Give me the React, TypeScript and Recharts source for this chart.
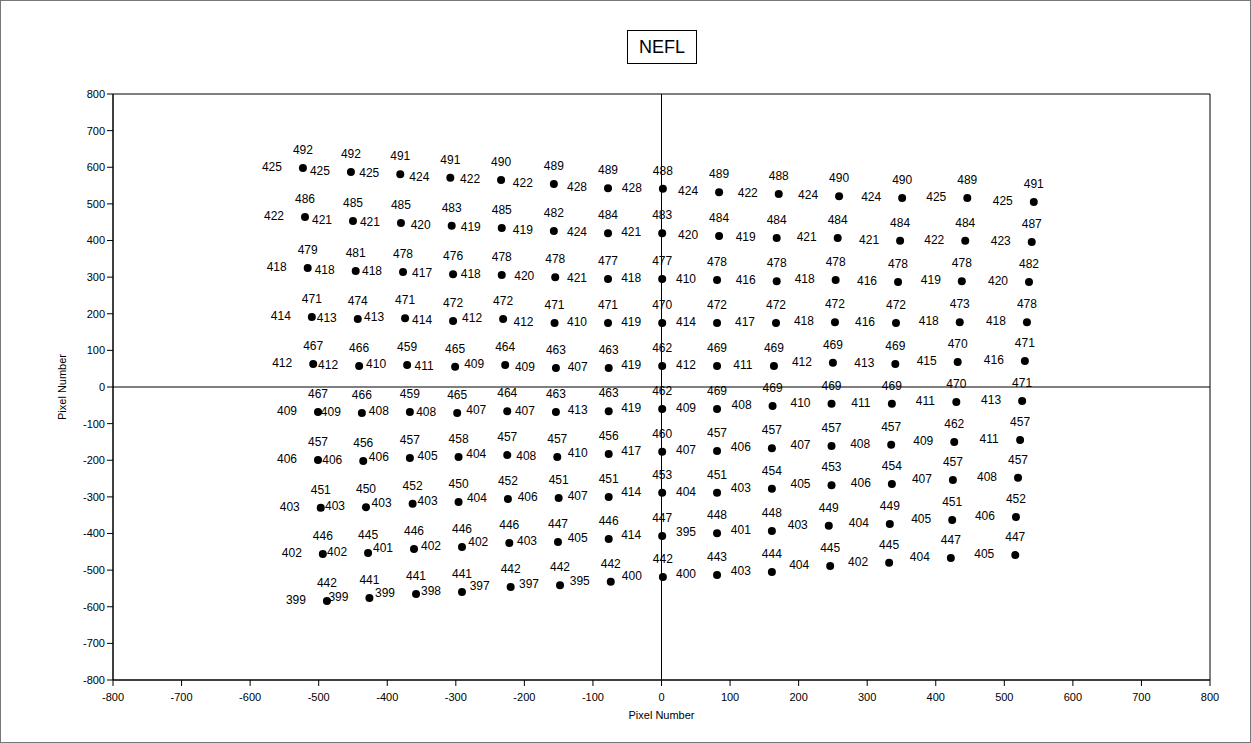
import React from "react";
import {
  ScatterChart,
  Scatter,
  XAxis,
  YAxis,
  ReferenceLine,
  ReferenceArea,
} from "recharts";

const axisTicks = [
  -800, -700, -600, -500, -400, -300, -200, -100, 0, 100, 200, 300, 400, 500,
  600, 700, 800,
];

// x position (pixel number) of each point, one row per line of the grid
const pointX = [
  [-523, -453, -381, -308, -234, -157, -78, 2, 84, 171, 259, 351, 446, 543],
  [-520, -450, -380, -306, -233, -157, -78, 1, 84, 168, 257, 348, 443, 540],
  [-516, -446, -377, -304, -233, -155, -78, 1, 81, 168, 254, 345, 438, 536],
  [-510, -443, -374, -304, -231, -156, -78, 1, 81, 167, 253, 342, 435, 533],
  [-508, -441, -371, -301, -228, -154, -77, 1, 81, 164, 250, 341, 432, 530],
  [-501, -437, -367, -298, -225, -154, -77, 1, 81, 162, 248, 336, 430, 526],
  [-501, -435, -367, -296, -225, -152, -77, 1, 81, 161, 248, 335, 427, 523],
  [-497, -431, -363, -296, -224, -150, -77, 1, 81, 161, 248, 336, 425, 520],
  [-494, -428, -361, -291, -222, -151, -77, 1, 81, 161, 244, 333, 424, 517],
  [-488, -426, -358, -291, -220, -148, -74, 2, 81, 161, 246, 332, 422, 516],
];

const pointY = [
  [598, 587, 581, 571, 565, 554, 543, 541, 532, 527, 521, 516, 516, 505],
  [464, 453, 448, 440, 434, 426, 420, 420, 412, 407, 407, 399, 399, 396],
  [325, 317, 314, 308, 306, 300, 295, 295, 292, 289, 292, 287, 289, 287],
  [191, 186, 188, 180, 186, 175, 175, 175, 175, 175, 177, 175, 177, 177],
  [63, 57, 60, 55, 60, 52, 52, 57, 57, 57, 66, 63, 68, 71],
  [-68, -71, -68, -71, -66, -68, -66, -60, -60, -52, -46, -46, -41, -38],
  [-199, -202, -194, -191, -186, -191, -183, -177, -175, -167, -161, -158, -150, -145],
  [-330, -328, -319, -314, -306, -303, -300, -289, -289, -278, -268, -265, -254, -248],
  [-456, -453, -442, -437, -426, -423, -415, -407, -399, -393, -379, -374, -363, -355],
  [-584, -576, -565, -560, -546, -541, -532, -519, -513, -505, -489, -480, -467, -459],
];

// value printed above each point
const labelTop = [
  [492, 492, 491, 491, 490, 489, 489, 488, 489, 488, 490, 490, 489, 491],
  [486, 485, 485, 483, 485, 482, 484, 483, 484, 484, 484, 484, 484, 487],
  [479, 481, 478, 476, 478, 478, 477, 477, 478, 478, 478, 478, 478, 482],
  [471, 474, 471, 472, 472, 471, 471, 470, 472, 472, 472, 472, 473, 478],
  [467, 466, 459, 465, 464, 463, 463, 462, 469, 469, 469, 469, 470, 471],
  [467, 466, 459, 465, 464, 463, 463, 462, 469, 469, 469, 469, 470, 471],
  [457, 456, 457, 458, 457, 457, 456, 460, 457, 457, 457, 457, 462, 457],
  [451, 450, 452, 450, 452, 451, 451, 453, 451, 454, 453, 454, 457, 457],
  [446, 445, 446, 446, 446, 447, 446, 447, 448, 448, 449, 449, 451, 452],
  [442, 441, 441, 441, 442, 442, 442, 442, 443, 444, 445, 445, 447, 447],
];

// value printed left of each point
const labelSide = [
  [425, 425, 425, 424, 422, 422, 428, 428, 424, 422, 424, 424, 425, 425],
  [422, 421, 421, 420, 419, 419, 424, 421, 420, 419, 421, 421, 422, 423],
  [418, 418, 418, 417, 418, 420, 421, 418, 410, 416, 418, 416, 419, 420],
  [414, 413, 413, 414, 412, 412, 410, 419, 414, 417, 418, 416, 418, 418],
  [412, 412, 410, 411, 409, 409, 407, 419, 412, 411, 412, 413, 415, 416],
  [409, 409, 408, 408, 407, 407, 413, 419, 409, 408, 410, 411, 411, 413],
  [406, 406, 406, 405, 404, 408, 410, 417, 407, 406, 407, 408, 409, 411],
  [403, 403, 403, 403, 404, 406, 407, 414, 404, 403, 405, 406, 407, 408],
  [402, 402, 401, 402, 402, 403, 405, 414, 395, 401, 403, 404, 405, 406],
  [399, 399, 399, 398, 397, 397, 395, 400, 400, 403, 404, 402, 404, 405],
];

type Pt = { x: number; y: number; top: number; side: number };

const data: Pt[] = pointX.flatMap((row, r) =>
  row.map((x, i) => ({
    x,
    y: pointY[r][i],
    top: labelTop[r][i],
    side: labelSide[r][i],
  }))
);

const FONT = "'Liberation Sans', Arial, sans-serif";

const LabelledDot = (props: any) => {
  const { cx, cy, payload } = props;
  return (
    <g>
      <circle cx={cx} cy={cy} r={4} fill="#000" />
      <text
        x={cx}
        y={cy - 18}
        textAnchor="middle"
        dominantBaseline="central"
        fontSize={12}
        fontFamily={FONT}
        fill="#000"
      >
        {payload.top}
      </text>
      <text
        x={cx - 31}
        y={cy - 1}
        textAnchor="middle"
        dominantBaseline="central"
        fontSize={12}
        fontFamily={FONT}
        fill="#000"
      >
        {payload.side}
      </text>
    </g>
  );
};

const tickStyle = { fontSize: 11, fontFamily: FONT, fill: "#000" };

export default function App() {
  return (
    <div
      style={{
        position: "absolute",
        left: 0,
        top: 0,
        width: 1251,
        height: 743,
        background: "#fff",
        fontFamily: FONT,
      }}
    >
      <div
        style={{
          position: "absolute",
          inset: 0,
          border: "1px solid #777",
          boxSizing: "border-box",
          pointerEvents: "none",
        }}
      />
      <div
        style={{
          position: "absolute",
          left: 627,
          top: 30,
          width: 70,
          height: 34,
          border: "1px solid #000",
          boxSizing: "border-box",
          display: "flex",
          alignItems: "center",
          justifyContent: "center",
          fontSize: 18,
          color: "#000",
        }}
      >
        NEFL
      </div>
      <ScatterChart
        width={1251}
        height={743}
        margin={{ top: 94, right: 41, bottom: 33, left: 53 }}
      >
        <XAxis
          type="number"
          dataKey="x"
          domain={[-800, 800]}
          ticks={axisTicks}
          interval={0}
          allowDataOverflow
          tick={tickStyle}
          tickMargin={7}
          axisLine={{ stroke: "#000" }}
          tickLine={{ stroke: "#000" }}
          height={30}
          label={{
            value: "Pixel Number",
            position: "center",
            dy: 20,
            style: { fontSize: 11, fontFamily: FONT, fill: "#000" },
          }}
        />
        <YAxis
          type="number"
          dataKey="y"
          domain={[-800, 800]}
          ticks={axisTicks}
          interval={0}
          allowDataOverflow
          tick={tickStyle}
          axisLine={{ stroke: "#000" }}
          tickLine={{ stroke: "#000" }}
          width={60}
          label={{
            value: "Pixel Number",
            position: "center",
            angle: -90,
            dx: -21,
            style: { fontSize: 11, fontFamily: FONT, fill: "#000" },
          }}
        />
        <ReferenceArea
          x1={-800}
          x2={800}
          y1={-800}
          y2={800}
          fill="none"
          fillOpacity={0}
          stroke="#000"
        />
        <ReferenceLine x={0} stroke="#000" />
        <ReferenceLine y={0} stroke="#000" />
        <Scatter
          data={data}
          shape={LabelledDot}
          isAnimationActive={false}
        />
      </ScatterChart>
    </div>
  );
}
